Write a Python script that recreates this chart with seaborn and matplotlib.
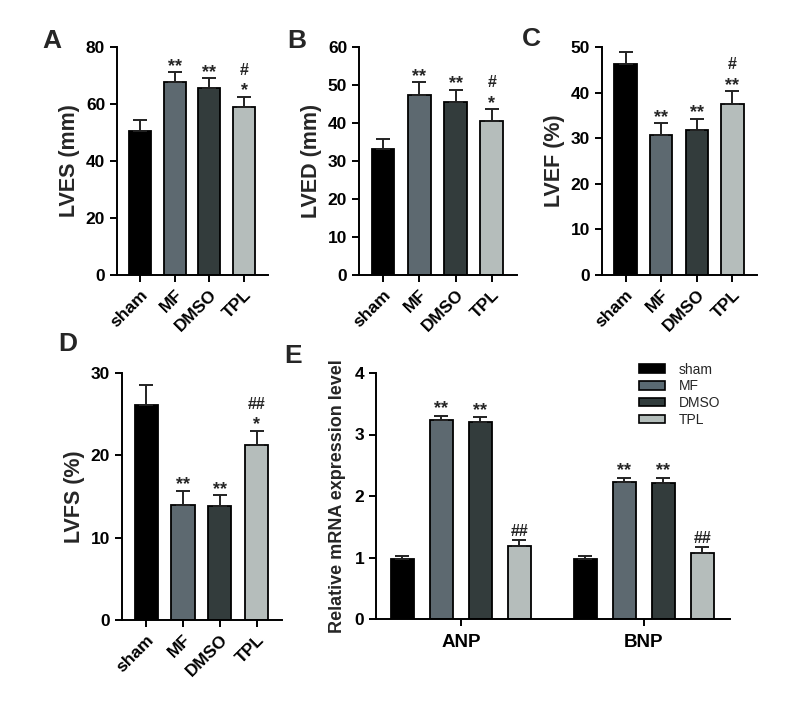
import matplotlib
matplotlib.use("Agg")
import matplotlib.pyplot as plt
from matplotlib.patches import Patch
from matplotlib.container import BarContainer
import seaborn as sns
import pandas as pd

sns.set_style("ticks")
plt.rcParams['font.family'] = ['Liberation Sans', 'DejaVu Sans']

GROUPS = ["sham", "MF", "DMSO", "TPL"]
COLORS = ["#000000", "#5a6a73", "#323d3d", "#b4bebb"]

# echo parameters (mean, error)
lves_mean = [50.6, 67.7, 65.7, 58.9]
lves_err = [3.8, 3.5, 3.3, 3.7]
lved_mean = [33.1, 47.4, 45.6, 40.4]
lved_err = [2.7, 3.3, 3.2, 3.3]
lvef_mean = [46.3, 30.8, 31.9, 37.6]
lvef_err = [2.5, 2.5, 2.4, 2.7]
lvfs_mean = [26.1, 14.0, 13.9, 21.3]
lvfs_err = [2.4, 1.7, 1.3, 1.7]

# mRNA expression
GENES = ["ANP", "BNP"]
anp_mean = [0.97, 3.23, 3.20, 1.19]
anp_err = [0.05, 0.07, 0.08, 0.09]
bnp_mean = [0.97, 2.23, 2.21, 1.08]
bnp_err = [0.05, 0.06, 0.08, 0.09]

# significance marks: (lower, upper) per group
marks_A = [("", ""), ("**", ""), ("**", ""), ("*", "#")]
marks_B = [("", ""), ("**", ""), ("**", ""), ("*", "#")]
marks_C = [("", ""), ("**", ""), ("**", ""), ("**", "#")]
marks_D = [("", ""), ("**", ""), ("**", ""), ("*", "##")]
marks_E = ["", "**", "**", "##"]

W, H = 786, 706
fig = plt.figure(figsize=(W / 100, H / 100), dpi=100)


def rect(x0, x1, ytop, ybot):
    return [x0 / W, 1 - ybot / H, (x1 - x0) / W, (ybot - ytop) / H]


def style_axis(ax):
    sns.despine(ax=ax)
    for s in ["left", "bottom"]:
        ax.spines[s].set_linewidth(1.4)
        ax.spines[s].set_color("black")
    ax.tick_params(width=1.4, length=5, direction="out", colors="black",
                   labelsize=12.5)
    for lab in ax.get_yticklabels() + ax.get_xticklabels():
        lab.set_fontweight("bold")


def add_mark(ax, text, x, y, dy):
    ax.annotate(text, (x, y), xytext=(0, dy), textcoords="offset points",
                ha="center", va="bottom", fontsize=13 if "*" in text else 11.5,
                fontweight="bold")


def echo_panel(r, means, errs, ylabel, ymax, step, marks, letter, lpos):
    ax = fig.add_axes(r)
    df = pd.DataFrame({"group": GROUPS, "value": means})
    sns.barplot(data=df, x="group", y="value", hue="group", palette=COLORS,
                width=0.63, edgecolor="black", linewidth=1.3, legend=False, ax=ax)
    ax.errorbar(range(len(GROUPS)), means, yerr=[[0] * len(errs), errs], fmt="none",
                ecolor="#222222", elinewidth=1.4, capsize=4.8, capthick=1.4, zorder=1)
    ax.set_xlim(-0.66, 3.69)
    ax.set_ylim(0, ymax)
    ax.set_yticks(range(0, ymax + 1, step))
    ax.set_xlabel("")
    ax.set_ylabel(ylabel, fontsize=15.5, fontweight="bold", labelpad=4)
    style_axis(ax)
    plt.setp(ax.get_xticklabels(), rotation=45, ha="right", rotation_mode="anchor")
    for i, (lo, hi) in enumerate(marks):
        top = means[i] + errs[i]
        if lo:
            add_mark(ax, lo, i, top, -2)
        if hi:
            add_mark(ax, hi, i, top, 13.5)
    fig.text(lpos[0] / W, 1 - lpos[1] / H, letter, fontsize=19, fontweight="bold",
             ha="left", va="baseline")
    return ax


echo_panel(rect(117, 268, 47, 275), lves_mean, lves_err, "LVES (mm)", 80, 20,
           marks_A, "A", (42, 48))
echo_panel(rect(359, 517, 47, 275), lved_mean, lved_err, "LVED (mm)", 60, 10,
           marks_B, "B", (287, 48))
echo_panel(rect(602, 757, 47, 275), lvef_mean, lvef_err, "LVEF (%)", 50, 10,
           marks_C, "C", (522, 46))
echo_panel(rect(122, 282, 373, 620), lvfs_mean, lvfs_err, "LVFS (%)", 30, 10,
           marks_D, "D", (58, 351))

# panel E: grouped bars
ax = fig.add_axes(rect(376, 730, 373, 619))
rows = []
for g, m in zip(GROUPS, anp_mean):
    rows.append({"gene": "ANP", "group": g, "value": m})
for g, m in zip(GROUPS, bnp_mean):
    rows.append({"gene": "BNP", "group": g, "value": m})
dfe = pd.DataFrame(rows)
sns.barplot(data=dfe, x="gene", y="value", hue="group", hue_order=GROUPS,
            palette=COLORS, width=0.852, gap=0.41, edgecolor="black",
            linewidth=1.3, legend=False, ax=ax)
errs_e = [[anp_err[i], bnp_err[i]] for i in range(len(GROUPS))]
means_e = [[anp_mean[i], bnp_mean[i]] for i in range(len(GROUPS))]
bar_conts = [c for c in ax.containers if isinstance(c, BarContainer)]
for i, cont in enumerate(bar_conts):
    xs = [b.get_x() + b.get_width() / 2 for b in cont]
    ax.errorbar(xs, means_e[i], yerr=[[0, 0], errs_e[i]], fmt="none",
                ecolor="#222222", elinewidth=1.4, capsize=4.8, capthick=1.4, zorder=1)
    if marks_E[i]:
        for x, m, e in zip(xs, means_e[i], errs_e[i]):
            add_mark(ax, marks_E[i], x, m + e, -1 if "*" in marks_E[i] else 1)
ax.set_xlim(-0.464, 1.47)
ax.set_ylim(0, 4)
ax.set_yticks(range(0, 5))
ax.set_xlabel("")
ax.set_ylabel("Relative mRNA expression level", fontsize=13, fontweight="bold", labelpad=6)
style_axis(ax)
ax.tick_params(axis="x", labelsize=13.5, pad=6)
handles = [Patch(facecolor=c, edgecolor="black", linewidth=1.2, label=g)
           for g, c in zip(GROUPS, COLORS)]
ax.legend(handles=handles, loc="upper left", bbox_to_anchor=(626 / W, 1 - 350 / H),
          bbox_transform=fig.transFigure, frameon=False, fontsize=10,
          handlelength=1.9, handleheight=0.55, handletextpad=1.0, labelspacing=0.2)
fig.text(284 / W, 1 - 363 / H, "E", fontsize=19, fontweight="bold", ha="left", va="baseline")

fig.savefig("out.png", dpi=100)
